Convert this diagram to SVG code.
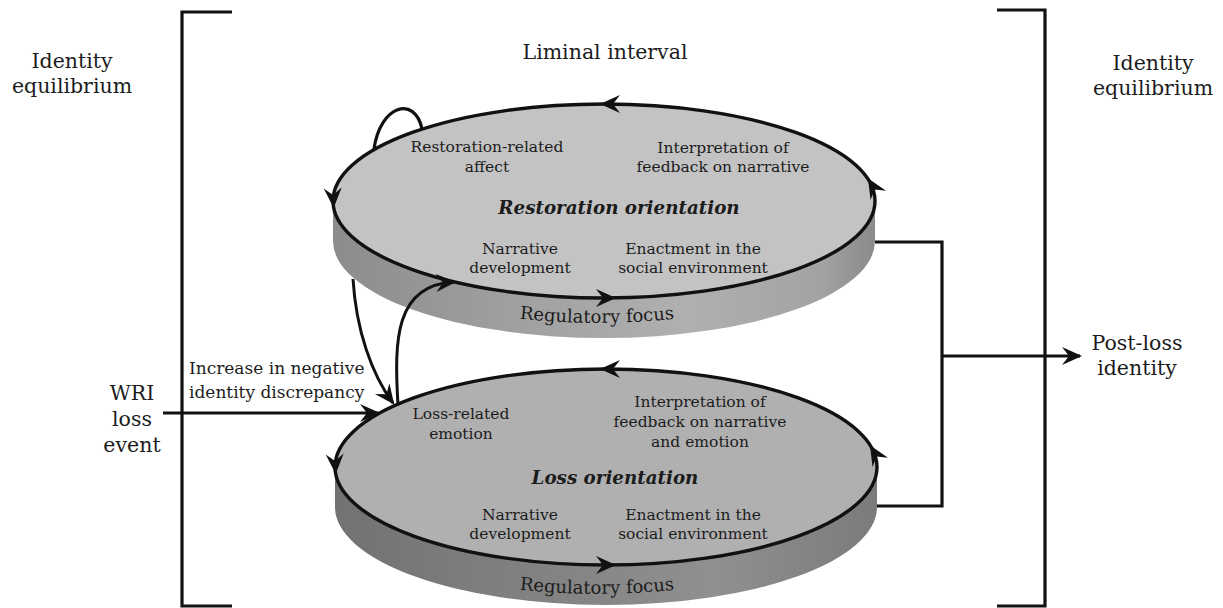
<svg xmlns="http://www.w3.org/2000/svg" width="1223" height="608" viewBox="0 0 1223 608">
<style>
.t{font-family:"DejaVu Serif","Liberation Serif",serif;fill:#1c1c1c;text-anchor:middle}
.big{font-size:20.5px}
.mid{font-size:17px}
.sm{font-size:15.5px}
.ttl{font-size:18.3px;font-weight:bold;font-style:italic}
.reg{font-size:18px}
.ln{fill:none;stroke:#111;stroke-width:3.2}
.edge{stroke:#111;stroke-width:3.4}
.cyc{fill:none;stroke:none;marker-end:url(#ah)}
.arr{fill:none;stroke:#111;stroke-width:3;marker-end:url(#ah)}
</style>
<defs>
<marker id="ah" viewBox="-24 -12 28 24" refX="-2" refY="0" markerWidth="28" markerHeight="24" markerUnits="userSpaceOnUse" orient="auto">
<path d="M0,0 L-20,-9 L-13,0 L-20,9 Z" fill="#111"/>
</marker>
<linearGradient id="sideR" x1="0" x2="1" y1="0" y2="0">
<stop offset="0" stop-color="#8c8c8c"/>
<stop offset="0.3" stop-color="#9e9e9e"/>
<stop offset="0.65" stop-color="#b0b0b0"/>
<stop offset="0.9" stop-color="#a3a3a3"/>
<stop offset="1" stop-color="#8a8a8a"/>
</linearGradient>
<linearGradient id="sideL" x1="0" x2="1" y1="0" y2="0">
<stop offset="0" stop-color="#727272"/>
<stop offset="0.4" stop-color="#838383"/>
<stop offset="0.7" stop-color="#909090"/>
<stop offset="1" stop-color="#7b7b7b"/>
</linearGradient>
<path id="regR" d="M 413 297 A 271 97 0 0 0 781 297"/>
<path id="regL" d="M 413 568 A 271 97 0 0 0 781 568"/>
</defs>
<rect width="1223" height="608" fill="#fff"/>

<g id="brackets">
<path class="ln" d="M 232 12 L 182 12 L 182 606 L 232 606"/>
<path class="ln" d="M 997 10 L 1045 10 L 1045 606 L 997 606"/>
</g>

<g id="restoration">
<path d="M 333 201 L 333 241 A 271 97 0 0 0 875 241 L 875 201 A 271 97 0 0 1 333 201 Z" fill="url(#sideR)"/>
<ellipse cx="604" cy="201" rx="271" ry="97" fill="#c3c3c3" class="edge"/>
<path class="cyc" d="M 616 104 L 602 104"/>
<path class="cyc" d="M 333 194 L 333.6 206"/>
<path class="cyc" d="M 600 298 L 614 298"/>
<path class="cyc" d="M 875 190 L 869 180"/>
<text class="t sm"><tspan x="487" y="152">Restoration-related</tspan><tspan x="487" y="172">affect</tspan></text>
<text class="t sm"><tspan x="723" y="153">Interpretation of</tspan><tspan x="723" y="172">feedback on narrative</tspan></text>
<text class="t ttl" x="619" y="214">Restoration orientation</text>
<text class="t sm"><tspan x="520" y="254">Narrative</tspan><tspan x="520" y="273">development</tspan></text>
<text class="t sm"><tspan x="693" y="254">Enactment in the</tspan><tspan x="693" y="273">social environment</tspan></text>
<text class="t reg"><textPath href="#regR" startOffset="50%">Regulatory focus</textPath></text>
</g>

<g id="loss">
<path d="M 335 467 L 335 507 A 271 98 0 0 0 877 507 L 877 467 A 271 98 0 0 1 335 467 Z" fill="url(#sideL)"/>
<ellipse cx="606" cy="467" rx="271" ry="98" fill="#b0b0b0" class="edge"/>
<path class="cyc" d="M 616 369 L 602 369"/>
<path class="cyc" d="M 335 460 L 335.6 472"/>
<path class="cyc" d="M 600 565 L 614 565"/>
<path class="cyc" d="M 877 457 L 871 447"/>
<text class="t sm"><tspan x="461" y="419">Loss-related</tspan><tspan x="461" y="439">emotion</tspan></text>
<text class="t sm"><tspan x="700" y="407">Interpretation of</tspan><tspan x="700" y="427">feedback on narrative</tspan><tspan x="700" y="447">and emotion</tspan></text>
<text class="t ttl" x="615" y="484">Loss orientation</text>
<text class="t sm"><tspan x="520" y="520">Narrative</tspan><tspan x="520" y="539">development</tspan></text>
<text class="t sm"><tspan x="693" y="520">Enactment in the</tspan><tspan x="693" y="539">social environment</tspan></text>
<text class="t reg"><textPath href="#regL" startOffset="50%">Regulatory focus</textPath></text>
</g>

<g id="connectors">
<path class="ln" d="M 374 149 C 380 105 415 95 422 129"/>
<path class="arr" d="M 353 279 C 356 330 372 375 393 403"/>
<path class="arr" d="M 398 405 C 394 340 395 285 454 282"/>
<path class="arr" d="M 163 413 L 378 413"/>
<path class="ln" d="M 875 242 L 942 242 L 942 506 L 877 506"/>
<path class="arr" d="M 942 356 L 1080 356"/>
</g>

<g id="labels">
<text class="t big"><tspan x="72" y="68">Identity</tspan><tspan x="72" y="93">equilibrium</tspan></text>
<text class="t big"><tspan x="1153" y="70">Identity</tspan><tspan x="1153" y="95">equilibrium</tspan></text>
<text class="t big" x="605" y="59">Liminal interval</text>
<text class="t big"><tspan x="132" y="400">WRI</tspan><tspan x="132" y="426">loss</tspan><tspan x="132" y="452">event</tspan></text>
<text class="t big"><tspan x="1137" y="350">Post-loss</tspan><tspan x="1137" y="375">identity</tspan></text>
<text class="t mid" style="text-anchor:start"><tspan x="189" y="374">Increase in negative</tspan><tspan x="189" y="398">identity discrepancy</tspan></text>
</g>
</svg>
